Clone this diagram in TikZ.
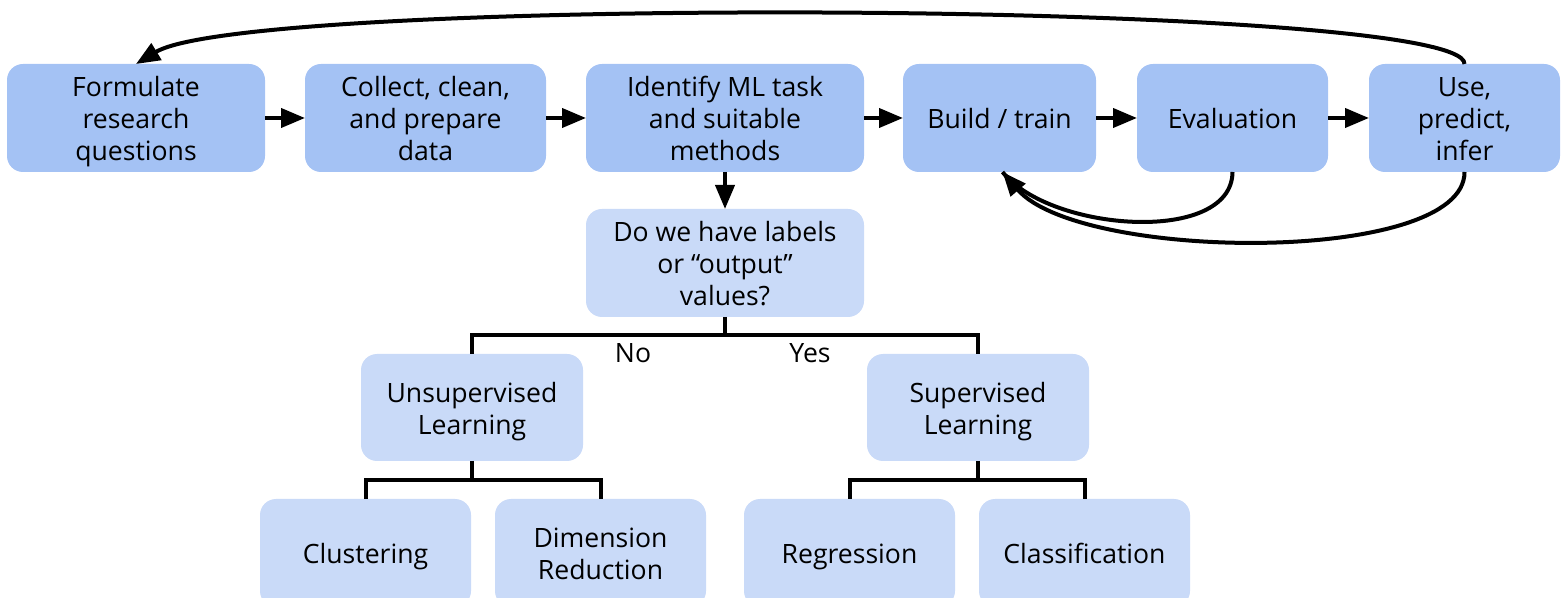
\documentclass[tikz,border=0pt]{standalone}
\usepackage{fontspec}
\setmainfont{Open Sans}
\usetikzlibrary{arrows.meta}
\definecolor{topblue}{HTML}{A4C2F4}
\definecolor{lowblue}{HTML}{C9DAF8}
\newcommand\myline[1]{\rule[-2.55pt]{0pt}{16pt}\smash{#1}}
\begin{document}
\begin{tikzpicture}[x=0.5pt,y=-0.5pt,
  box/.style={rounded corners=8pt, inner sep=0pt, outer sep=0pt, align=center,
    minimum height=54pt, font=\fontsize{13.3}{16}\selectfont},
  topbox/.style={box, fill=topblue},
  lowbox/.style={box, fill=lowblue},
  arr/.style={line width=2pt, -{Triangle[length=12pt,width=9.5pt]}},
  tree/.style={line width=2pt},
  lab/.style={font=\fontsize{13.3}{16}\selectfont, inner sep=0pt}]
\useasboundingbox (0,0) rectangle (1564,598);
\clip (0,0) rectangle (1564,598);
% top row
\node[topbox, minimum width=129pt] (f) at (136,118) {\myline{Formulate}\\\myline{research}\\\myline{questions}};
\node[topbox, minimum width=120.5pt] (c) at (425.5,118) {\myline{Collect, clean,}\\\myline{and prepare}\\\myline{data}};
\node[topbox, minimum width=139pt] (i) at (725,118) {\myline{Identify ML task}\\\myline{and suitable}\\\myline{methods}};
\node[topbox, minimum width=96.5pt] (b) at (999.5,118) {\myline{Build / train}};
\node[topbox, minimum width=95.5pt] (e) at (1232.5,118) {\myline{Evaluation}};
\node[topbox, minimum width=95.5pt] (u) at (1464.5,118) {\myline{Use,}\\\myline{predict,}\\\myline{infer}};
% decision
\node[lowbox, minimum width=139pt] (d) at (725,263) {\myline{Do we have labels}\\\myline{or “output”}\\\myline{values?}};
\node[lowbox, minimum width=111pt, minimum height=53.5pt] (us) at (472,407.5) {\myline{Unsupervised}\\\myline{Learning}};
\node[lowbox, minimum width=111pt, minimum height=53.5pt] (s) at (978,407.5) {\myline{Supervised}\\\myline{Learning}};
\node[lowbox, minimum width=105.5pt] (cl) at (365.5,553) {\myline{Clustering}};
\node[lowbox, minimum width=105.5pt] (dr) at (600.5,553) {\myline{Dimension}\\\myline{Reduction}};
\node[lowbox, minimum width=105.5pt] (rg) at (849.5,553) {\myline{Regression}};
\node[lowbox, minimum width=105.5pt] (cf) at (1084.5,553) {\myline{Classification}};
% labels
\node[lab] (no) at (633,352) {\myline{No}};
\node[lab] (yes) at (810,352) {\myline{Yes}};
% arrows top row
\draw[arr] (f) -- (c);
\draw[arr] (c) -- (i);
\draw[arr] (i) -- (b);
\draw[arr] (b) -- (e);
\draw[arr] (e) -- (u);
\draw[arr] (i) -- (d);
% feedback loops
\draw[arr] (u.north) .. controls (1466,0) and (250,-5) .. (f.north);
\draw[line width=2pt] (e.south) .. controls (1232,245) and (1050,232) .. ([xshift=1.5pt]b.south);
\draw[arr] (u.south) .. controls (1465,265) and (1080,262) .. ([xshift=1.5pt]b.south);
% tree
\coordinate (dj) at (725,335);
\coordinate (uj) at (472,480);
\coordinate (sj) at (978,480);
\draw[tree] (d.south) -- (dj);
\draw[tree] (us.north) |- (dj) -| (s.north);
\draw[tree] (us.south) -- (uj);
\draw[tree] (cl.north) |- (uj) -| (dr.north);
\draw[tree] (s.south) -- (sj);
\draw[tree] (rg.north) |- (sj) -| (cf.north);
\end{tikzpicture}
\end{document}
